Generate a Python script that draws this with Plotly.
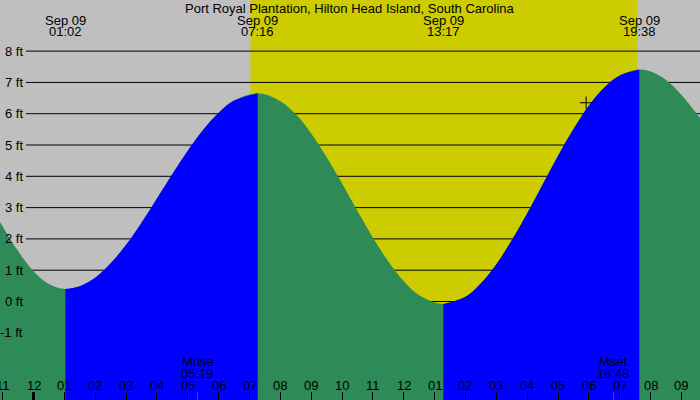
import plotly.graph_objects as go

title = "Port Royal Plantation, Hilton Head Island, South Carolina"

# tide extremes, hours after midnight Sep 09
extreme_times = [1.033, 7.267, 13.283, 19.633]
extreme_dates = ["Sep 09", "Sep 09", "Sep 09", "Sep 09"]
extreme_clock = ["01:02", "07:16", "13:17", "19:38"]

# tide height (ft)
fall0_times = [-1.09, -0.5, 0.0, 0.5, 1.033]
fall0_ft = [2.55, 1.61, 0.97, 0.56, 0.40]
rise1_times = [1.033, 1.5, 2, 2.5, 3, 3.5, 4, 4.5, 5, 5.5, 6, 6.5, 7.267]
rise1_ft = [0.40, 0.49, 0.76, 1.22, 1.81, 2.52, 3.29, 4.07, 4.82, 5.49, 6.03, 6.42, 6.65]
fall2_times = [7.267, 8, 8.5, 9, 9.5, 10, 10.5, 11, 11.5, 12, 12.5, 13.283]
fall2_ft = [6.65, 6.40, 5.98, 5.37, 4.61, 3.77, 2.89, 2.04, 1.28, 0.65, 0.20, -0.08]
rise3_times = [13.283, 14, 14.5, 15, 15.5, 16, 16.5, 17, 17.5, 18, 18.5, 19, 19.633]
rise3_ft = [-0.08, 0.15, 0.58, 1.19, 1.96, 2.82, 3.74, 4.66, 5.51, 6.26, 6.84, 7.22, 7.41]
fall4_times = [19.633, 20, 20.5, 21, 21.6]
fall4_ft = [7.41, 7.35, 7.08, 6.60, 5.86]

sunrise, sunset = 7.03, 19.57
moon_times = [5.317, 18.8]
moon_names = ["Mrise", "Mset"]
moon_clock = ["05:19", "18:48"]

now_time, now_ft = 17.91, 6.35

tick_hours = list(range(-1, 22))
tick_labels = ["11", "12", "01", "02", "03", "04", "05", "06", "07", "08", "09", "10",
               "11", "12", "01", "02", "03", "04", "05", "06", "07", "08", "09"]
ft_levels = [-1, 0, 1, 2, 3, 4, 5, 6, 7, 8]

x_range = [-1.086, 21.6]
y_range = [-3.147, 9.633]

GREEN = "#2E8B57"
BLUE = "#0000FF"
FONT = dict(family="Liberation Sans, Arial, sans-serif", size=13, color="black")

# full curve, falling parts stay green, rising parts get painted blue on top
tide_times = fall0_times + rise1_times[1:] + fall2_times[1:] + rise3_times[1:] + fall4_times[1:]
tide_ft = fall0_ft + rise1_ft[1:] + fall2_ft[1:] + rise3_ft[1:] + fall4_ft[1:]

fig = go.Figure()


def add_fill(tt, hh, color):
    fig.add_trace(go.Scatter(x=[tt[0], tt[-1]], y=[y_range[0], y_range[0]],
                             mode="lines", line=dict(width=0), hoverinfo="skip", showlegend=False))
    fig.add_trace(go.Scatter(x=tt, y=hh, mode="lines", line=dict(width=0, shape="spline"),
                             fill="tonexty", fillcolor=color, hoverinfo="skip", showlegend=False))


add_fill(tide_times, tide_ft, GREEN)
add_fill(rise1_times, rise1_ft, BLUE)
add_fill(rise3_times, rise3_ft, BLUE)

fig.add_trace(go.Scatter(x=[now_time], y=[now_ft], mode="markers",
                         marker=dict(symbol="cross-thin", size=9, line=dict(color="black", width=1)),
                         hoverinfo="skip", showlegend=False))

shapes = [dict(type="rect", xref="x", yref="paper", x0=sunrise, x1=sunset, y0=0, y1=1,
               fillcolor="#CCCC00", line=dict(width=0), layer="below")]
for v in ft_levels:
    shapes.append(dict(type="line", xref="paper", yref="y", x0=26 / 700, x1=1, y0=v, y1=v,
                       line=dict(color="black", width=1), layer="below"))
# thick midnight tick
shapes.append(dict(type="line", xref="x", yref="paper", x0=0, x1=0, y0=0, y1=0.02,
                   line=dict(color="black", width=3)))
for t in moon_times:
    shapes.append(dict(type="line", xref="x", yref="paper", x0=t, x1=t, y0=0, y1=0.02,
                       line=dict(color="red", width=1)))

ann = [dict(text=title, x=0.5, y=0.98, xref="paper", yref="paper", showarrow=False,
            font=FONT, xanchor="center", yanchor="middle")]
for t, d, c in zip(extreme_times, extreme_dates, extreme_clock):
    ann.append(dict(text=d, x=t, y=0.95, xref="x", yref="paper", showarrow=False,
                    font=FONT, xanchor="center", yanchor="middle"))
    ann.append(dict(text=c, x=t, y=0.921, xref="x", yref="paper", showarrow=False,
                    font=FONT, xanchor="center", yanchor="middle"))
for v in ft_levels:
    ann.append(dict(text=f"{v} ft", x=25 / 700, y=v, xref="paper", yref="y", showarrow=False,
                    font=FONT, xanchor="right", yanchor="middle"))
for h, lab in zip(tick_hours, tick_labels):
    ann.append(dict(text=lab, x=h, y=0.036, xref="x", yref="paper", showarrow=False,
                    font=FONT, xanchor="center", yanchor="middle"))
for t, n, c in zip(moon_times, moon_names, moon_clock):
    ann.append(dict(text=n, x=t, y=0.096, xref="x", yref="paper", showarrow=False,
                    font=FONT, xanchor="center", yanchor="middle"))
    ann.append(dict(text=c, x=t, y=0.067, xref="x", yref="paper", showarrow=False,
                    font=FONT, xanchor="center", yanchor="middle"))

fig.update_layout(
    width=700, height=400,
    margin=dict(l=0, r=0, t=0, b=0),
    plot_bgcolor="#BFBFBF", paper_bgcolor="#BFBFBF",
    xaxis=dict(range=x_range, showgrid=False, zeroline=False, showline=False,
               tickvals=tick_hours, ticks="inside", ticklen=8, tickcolor="black", tickwidth=1,
               showticklabels=False, fixedrange=True),
    yaxis=dict(range=y_range, visible=False, fixedrange=True),
    shapes=shapes, annotations=ann,
)

# page has a default 8px body margin, drop it so the chart fills the window
fig.write_html("out.html", config={"displayModeBar": False},
               post_script="document.body.style.margin='0';")
